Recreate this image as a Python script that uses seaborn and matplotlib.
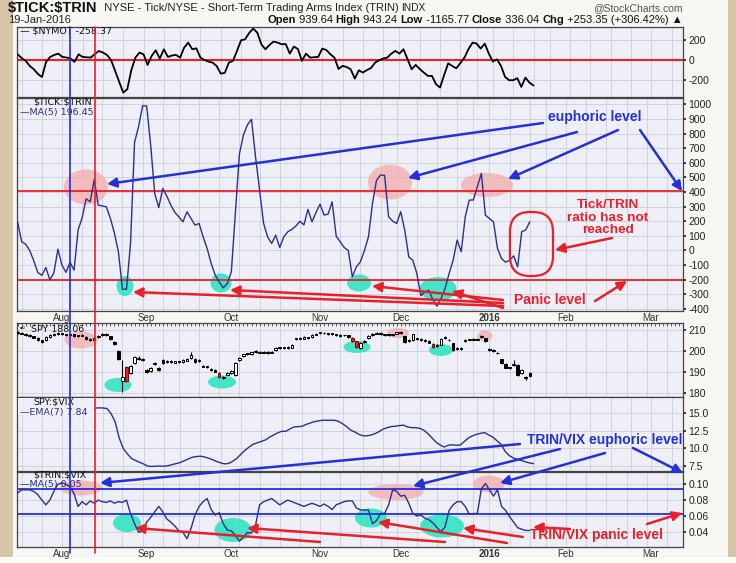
import numpy as np
import pandas as pd
import matplotlib
matplotlib.use("Agg")
import matplotlib.pyplot as plt
import seaborn as sns
from matplotlib.patches import Ellipse, FancyBboxPatch, Rectangle
from matplotlib.transforms import blended_transform_factory

# one value per trading day, 17-Jul-2015 .. 19-Jan-2016
nymot = [
    57, 20, -9, -60, -93, -140, -170, -20, 30, 50,
    64, 31, 25, 17, -19, 57, 31, 28, 24, 60,
    90, 75, 50, 0, -109, -220, -326, -292, -100, 24,
    74, 57, -49, 41, 97, 14, 107, 31, 45, 51,
    24, 124, 174, 107, 117, 24, 0, -16, -26, -60,
    -136, -129, -26, -9, 90, 197, 207, 270, 314, 274,
    157, 107, 150, 184, 174, 157, 160, 64, 134, 110,
    -9, 64, 24, 28, 31, 114, 100, 57, 24, -90,
    -59, -70, -93, -186, -103, -126, -100, -80, -26, -3,
    15, 24, 64, 91, 64, 107, 7, -93, -49, -90,
    -126, -159, -159, -242, -276, -150, -33, -60, -83, -30,
    24, 110, 174, 164, 114, 164, 64, -16, 7, -59,
    -169, -202, -202, -182, -269, -176, -226, -255,
]

tick_trin_ma5 = [
    196, 60, 43, 0, -70, -150, -170, -117, -200, -153,
    9, -100, -150, -80, -135, 140, 224, 354, 333, 486,
    310, 305, 299, 220, 120, -10, -265, -265, 48, 740,
    847, 990, 988, 721, 390, 294, 424, 372, 310, 260,
    230, 196, 265, 219, 173, 185, 93, 14, -89, -169,
    -215, -255, -226, -146, 260, 660, 790, 860, 897, 641,
    413, 185, 93, 48, 105, 20, 93, 128, 144, 167,
    200, 175, 281, 196, 260, 317, 242, 249, 333, 98,
    59, 20, 0, -180, -112, -78, 0, 93, 322, 480,
    516, 514, 230, 201, 185, 265, 139, -44, -67, -158,
    -310, -283, -272, -340, -381, -329, -260, -158, -67, 71,
    -9, 230, 345, 345, 436, 527, 242, 219, 196, 14,
    -55, -80, -67, -37, -112, 128, 140, 196,
]

spy_open = [
    209.0, 208.6, 208.2, 207.6, 207.0, 206.2, 205.0, 205.0, 206.6, 207.6,
    208.1, 208.4, 207.9, 207.5, 208.0, 207.0, 207.3, 206.8, 205.6, 205.2,
    206.5, 207.5, 208.3, 207.0, 204.5, 200.0, 185.8, 192.3, 189.6, 194.2,
    196.0, 196.2, 191.0, 190.6, 193.6, 192.0, 195.7, 194.6, 195.4, 194.5,
    195.0, 194.8, 195.4, 196.5, 196.2, 195.2, 193.0, 192.6, 191.4, 191.0,
    189.6, 187.8, 188.8, 189.6, 188.4, 195.8, 197.6, 198.4, 198.7, 199.4,
    199.2, 199.6, 199.0, 199.2, 200.6, 201.4, 201.3, 201.5, 201.6, 205.6,
    205.9, 205.9, 206.4, 206.8, 207.8, 208.5, 208.6, 208.4, 208.2, 208.0,
    207.6, 207.5, 207.4, 206.3, 204.6, 201.3, 204.2, 206.2, 207.6, 208.3,
    208.5, 207.6, 207.8, 207.5, 208.3, 208.5, 207.0, 204.8, 205.2, 206.0,
    205.8, 205.4, 204.8, 203.4, 202.2, 203.0, 206.2, 205.4, 203.6, 201.0,
    200.8, 204.8, 205.4, 205.7, 205.4, 206.8, 206.0, 201.0, 200.4, 198.8,
    196.0, 193.8, 192.0, 193.2, 193.4, 189.4, 187.6, 189.6,
]
spy_high = [
    209.4, 209.0, 208.6, 207.9, 207.3, 206.5, 205.4, 206.9, 207.9, 208.5,
    208.8, 208.7, 208.2, 208.3, 208.3, 207.7, 208.0, 207.1, 206.0, 206.6,
    207.6, 208.5, 208.6, 207.3, 204.9, 200.5, 195.7, 193.0, 193.3, 197.6,
    197.4, 196.8, 191.6, 192.3, 194.6, 192.5, 196.0, 195.9, 195.8, 195.4,
    195.4, 196.0, 196.6, 199.6, 196.5, 196.2, 193.4, 193.0, 191.8, 191.4,
    189.9, 188.3, 190.0, 191.0, 194.6, 196.9, 198.7, 199.2, 199.7, 200.3,
    200.0, 199.9, 199.8, 200.0, 201.7, 202.1, 202.0, 202.3, 203.4, 206.2,
    206.5, 206.9, 206.7, 207.9, 208.6, 209.0, 208.9, 208.7, 208.5, 208.3,
    207.9, 207.8, 207.7, 206.6, 204.9, 204.2, 205.2, 207.4, 208.5, 208.8,
    208.8, 208.0, 208.1, 208.2, 209.1, 209.3, 207.3, 205.6, 208.2, 206.4,
    206.1, 205.7, 205.1, 203.7, 203.2, 206.2, 207.2, 205.7, 203.9, 201.8,
    201.8, 205.6, 205.9, 206.0, 206.0, 207.5, 206.3, 201.4, 200.8, 199.4,
    196.3, 194.2, 192.3, 195.5, 193.8, 191.2, 188.0, 190.0,
]
spy_low = [
    208.2, 207.9, 207.2, 206.5, 206.0, 204.8, 204.0, 204.7, 206.3, 207.3,
    207.8, 207.5, 207.1, 207.2, 206.6, 206.7, 206.9, 205.2, 204.6, 204.9,
    206.2, 207.2, 207.2, 205.1, 202.8, 195.5, 180.6, 185.2, 189.2, 193.8,
    195.6, 195.4, 189.5, 190.2, 193.2, 190.5, 193.7, 194.2, 194.2, 194.1,
    194.2, 194.4, 195.0, 196.0, 194.5, 194.8, 192.2, 191.9, 190.5, 189.8,
    187.3, 186.5, 188.4, 189.2, 188.0, 195.4, 197.2, 198.0, 198.3, 199.0,
    198.8, 198.8, 198.6, 198.8, 200.2, 201.0, 200.9, 201.1, 201.2, 205.2,
    205.5, 205.5, 205.7, 206.4, 207.4, 208.1, 208.0, 207.8, 207.6, 207.0,
    206.8, 207.0, 206.4, 204.4, 201.6, 200.9, 203.8, 205.8, 207.2, 207.9,
    207.8, 207.2, 207.1, 207.1, 207.9, 208.1, 204.0, 204.4, 204.8, 205.2,
    204.8, 204.2, 203.6, 201.4, 201.8, 202.6, 205.8, 204.6, 200.2, 200.6,
    200.4, 204.4, 205.0, 205.0, 205.0, 206.4, 204.2, 200.0, 199.4, 198.4,
    193.8, 191.7, 191.3, 192.8, 188.2, 189.0, 186.4, 187.6,
]
spy_close = [
    208.6, 208.3, 207.6, 206.9, 206.4, 205.2, 204.4, 206.6, 207.5, 208.1,
    208.4, 207.9, 207.5, 207.9, 207.0, 207.4, 207.7, 205.6, 205.0, 206.3,
    207.3, 208.2, 207.6, 205.5, 203.2, 196.0, 187.4, 185.6, 192.8, 197.2,
    196.5, 195.8, 190.0, 191.8, 194.1, 191.0, 194.1, 195.4, 194.6, 195.0,
    194.6, 195.6, 196.2, 198.2, 194.9, 195.8, 192.6, 192.3, 190.9, 190.2,
    187.8, 187.0, 189.6, 190.5, 194.2, 196.6, 198.4, 198.8, 199.3, 199.9,
    199.6, 199.2, 199.5, 199.6, 201.4, 201.8, 201.6, 202.0, 203.0, 205.9,
    206.1, 206.6, 206.1, 207.6, 208.3, 208.7, 208.4, 208.2, 208.0, 207.4,
    207.2, 207.4, 206.8, 204.8, 202.0, 203.8, 204.8, 207.1, 208.2, 208.5,
    208.2, 207.8, 207.5, 207.9, 208.8, 209.0, 204.4, 205.3, 207.9, 205.6,
    205.2, 204.6, 204.0, 201.8, 202.9, 205.9, 206.8, 205.0, 200.6, 201.5,
    201.4, 205.3, 205.6, 205.4, 205.7, 207.2, 204.6, 200.5, 199.8, 199.0,
    194.2, 192.1, 191.8, 194.0, 188.6, 190.8, 187.2, 188.06,
]
red_candle_days = ["2015-08-25", "2015-09-28", "2015-11-12", "2015-11-13", "2015-12-11"]

spy_vix_ema7 = [
    16.0, 16.1, 16.0, 15.9, 15.7, 15.5, 15.5, 15.6, 15.7, 15.7,
    15.6, 15.6, 15.6, 15.6, 15.5, 15.5, 15.5, 15.57, 15.65, 15.72,
    15.76, 15.74, 15.67, 14.95, 13.8, 11.5, 10.0, 9.24, 8.6, 8.3,
    8.05, 7.8, 7.5, 7.45, 7.48, 7.5, 7.48, 7.55, 7.7, 7.85,
    8.0, 8.25, 8.5, 8.75, 8.85, 8.9, 8.8, 8.62, 8.4, 8.15,
    7.95, 7.81, 7.88, 8.2, 8.6, 9.2, 9.75, 10.2, 10.6, 10.8,
    11.0, 11.2, 11.6, 11.9, 12.2, 12.43, 12.43, 12.75, 13.05, 13.1,
    13.14, 13.4, 13.6, 13.8, 13.9, 14.0, 14.0, 14.0, 14.0, 13.85,
    13.5, 13.1, 12.6, 12.35, 12.0, 11.8, 11.8, 11.9, 12.1, 12.4,
    12.75, 12.95, 13.1, 13.15, 13.25, 13.3, 13.05, 12.95, 12.95, 12.85,
    12.6, 12.1, 11.5, 10.9, 10.5, 10.2, 10.45, 10.52, 10.45, 10.5,
    11.0, 11.5, 11.8, 12.0, 12.15, 12.24, 11.9, 11.6, 11.1, 10.6,
    9.6, 9.0, 8.65, 8.45, 8.3, 8.1, 7.95, 7.84,
]

trin_vix_ma5 = [
    0.089, 0.093, 0.093, 0.093, 0.091, 0.087, 0.080, 0.074, 0.080, 0.091,
    0.100, 0.102, 0.100, 0.097, 0.088, 0.072, 0.078, 0.074, 0.079, 0.076,
    0.080, 0.078, 0.077, 0.079, 0.076, 0.078, 0.077, 0.080, 0.063, 0.050,
    0.039, 0.041, 0.052, 0.058, 0.065, 0.072, 0.065, 0.056, 0.052, 0.047,
    0.041, 0.039, 0.031, 0.044, 0.061, 0.072, 0.078, 0.082, 0.068, 0.061,
    0.064, 0.050, 0.042, 0.041, 0.035, 0.028, 0.033, 0.039, 0.038, 0.048,
    0.074, 0.078, 0.080, 0.082, 0.078, 0.074, 0.077, 0.080, 0.078, 0.076,
    0.074, 0.072, 0.074, 0.076, 0.074, 0.072, 0.075, 0.072, 0.068, 0.074,
    0.076, 0.078, 0.079, 0.079, 0.070, 0.0675, 0.0675, 0.0675, 0.050, 0.054,
    0.063, 0.063, 0.074, 0.093, 0.091, 0.085, 0.086, 0.076, 0.063, 0.060,
    0.061, 0.057, 0.055, 0.051, 0.045, 0.040, 0.046, 0.067, 0.074, 0.078,
    0.078, 0.072, 0.062, 0.063, 0.063, 0.094, 0.101, 0.093, 0.085, 0.093,
    0.072, 0.067, 0.059, 0.052, 0.045, 0.043, 0.0415, 0.0415,
]

# reference levels drawn by the chart author
tick_euphoric, tick_panic = 410, -200
trinvix_euphoric, trinvix_panic = 0.0935, 0.0623
blue_marker_day, red_marker_day = "2015-08-05", "2015-08-13"

holidays = ["2015-09-07", "2015-11-26", "2015-12-25", "2016-01-01", "2016-01-18"]

# ---------------------------------------------------------------- setup
W, H = 736, 563
TAN = "#d7c5a9"
CHART_BG = "#f7f6f2"
PANEL_BG = "#eeeff6"
GRID = "#cdced8"
BLUE = "#2430d8"
NAVY = "#2c2f8f"
RED = "#e8202a"
PINK = "#f2b3b3"
TEAL = "#30e3c2"

sns.set_theme(style="white")
plt.rcParams["font.family"] = ["Liberation Sans", "DejaVu Sans"]
plt.rcParams["axes.unicode_minus"] = False

hist = pd.bdate_range("2015-07-17", "2016-01-19")
hist = hist[~hist.isin(pd.to_datetime(holidays))]
future = pd.bdate_range("2016-01-20", "2016-03-11")
all_days = hist.append(future)
x = np.arange(len(hist))
day_pos = pd.Series(np.arange(len(all_days)), index=all_days)

months = all_days.to_period("M")
month_idx = np.where(np.r_[False, months[1:] != months[:-1]])[0]
month_lab = ["2016" if all_days[i].month == 1 else all_days[i].strftime("%b") for i in month_idx]
wk = all_days.isocalendar().week.values
week_idx = np.where(np.r_[False, wk[1:] != wk[:-1]])[0]

XMIN, XMAX = -0.15, 163.8
PL, PR = 17, 683

fig = plt.figure(figsize=(W / 100, H / 100), dpi=100)
fig.patch.set_facecolor(TAN)
fig.add_artist(Rectangle((13 / W, 1 - 557 / H), (728 - 13) / W, 557 / H,
                         transform=fig.transFigure, fc=CHART_BG, ec="none", zorder=-5))
fig.add_artist(Rectangle((0, 0), 1, 1 - 557 / H, transform=fig.transFigure,
                         fc="#fbfbfb", ec="none", zorder=-5))


def add_panel(y0, y1, ylim, ticks, labels):
    ax = fig.add_axes([PL / W, 1 - y1 / H, (PR - PL) / W, (y1 - y0) / H])
    ax.set_facecolor(PANEL_BG)
    ax.set_xlim(XMIN, XMAX)
    ax.set_ylim(*ylim)
    for w in week_idx:
        ax.axvline(w, color=GRID, lw=0.6, zorder=0)
    ax.set_yticks(ticks)
    ax.set_yticklabels(labels)
    ax.yaxis.tick_right()
    ax.grid(axis="y", color=GRID, lw=0.6)
    ax.grid(axis="x", visible=False)
    ax.tick_params(axis="y", length=2, pad=2, labelsize=7.5, colors="#222222")
    ax.set_xticks([])
    for s in ax.spines.values():
        s.set_color("#444444")
        s.set_linewidth(0.9)
    return ax


def month_axis(ax):
    ax.set_xticks(month_idx)
    ax.set_xticklabels(month_lab)
    ax.set_xticks(np.arange(len(all_days)), minor=True)
    ax.tick_params(axis="x", which="major", length=0, pad=1.5, labelsize=7, colors="#333333")
    ax.tick_params(axis="x", which="minor", length=2, width=0.6, direction="in", colors="#444444")
    for t in ax.get_xticklabels():
        if t.get_text() == "2016":
            t.set_fontweight("bold")


ax1 = add_panel(27, 97, (-370, 330), [-200, 0, 200], ["-200", "0", "200"])
ax2 = add_panel(98, 311, (-414, 1043), list(range(-400, 1001, 100)),
                [str(v) for v in range(-400, 1001, 100)])
ax3 = add_panel(323, 397, (178.1, 213.3), [180, 190, 200, 210], ["180", "190", "200", "210"])
ax4 = add_panel(397, 471, (6.8, 17.3), [7.5, 10, 12.5, 15], ["7.5", "10.0", "12.5", "15.0"])
ax5 = add_panel(472, 547, (0.0205, 0.1156), [0.04, 0.06, 0.08, 0.10],
                ["0.04", "0.06", "0.08", "0.10"])
month_axis(ax2)
month_axis(ax5)
ax3.set_xticks(np.arange(len(all_days)), minor=True)
ax3.tick_params(axis="x", which="minor", top=True, bottom=False, length=2, width=0.6,
                direction="in", colors="#444444")

# overlay in pixel units for the hand-drawn annotations
ovl = fig.add_axes([0, 0, 1, 1], zorder=10)
ovl.set_xlim(0, W)
ovl.set_ylim(H, 0)
ovl.axis("off")
ovl.patch.set_alpha(0)


def blob(ax, cx, cy, w, h, color, alpha):
    ax.add_patch(Ellipse((cx, cy), w, h, transform=ovl.transData, fc=color,
                         ec="none", alpha=alpha, zorder=1))


# ---------------------------------------------------------------- series
sns.lineplot(x=x, y=nymot, ax=ax1, color="black", linewidth=1.3, legend=False, zorder=3)
ax1.axhline(0, color=RED, lw=1.5, zorder=2)

for cx, cy, w, h in [(86, 187, 44, 35), (390, 182, 44, 35), (487, 185, 52, 24)]:
    blob(ax2, cx, cy, w, h, PINK, 0.85)
for cx, cy, w, h in [(125, 286, 17, 20), (221, 283, 21, 19), (359, 283, 24, 17), (438, 289, 37, 24)]:
    blob(ax2, cx, cy, w, h, TEAL, 0.9)
sns.lineplot(x=x, y=tick_trin_ma5, ax=ax2, color=NAVY, linewidth=1.0, legend=False, zorder=3)
ax2.axhline(tick_euphoric, color=RED, lw=1.3, zorder=2)
ax2.axhline(tick_panic, color=RED, lw=1.3, zorder=2)

for cx, cy, w, h in [(81, 340, 33, 17), (398, 333, 22, 10), (485, 336, 15, 11)]:
    blob(ax3, cx, cy, w, h, PINK, 0.85)
for cx, cy, w, h in [(118, 385, 27, 14), (222, 382, 28, 13), (357, 347, 27, 12), (441, 350, 24, 12)]:
    blob(ax3, cx, cy, w, h, TEAL, 0.9)
o = np.array(spy_open)
c = np.array(spy_close)
red_pos = day_pos[pd.to_datetime(red_candle_days)].values
face = np.where(c >= o, "white", "black").astype(object)
edge = np.array(["black"] * len(x), dtype=object)
face[red_pos] = RED
edge[red_pos] = "#8a0000"
ax3.vlines(x, spy_low, spy_high, color="black", lw=0.8, zorder=3)
ax3.bar(x, np.maximum(np.abs(c - o), 0.35), bottom=np.minimum(o, c), width=0.62,
        color=list(face), edgecolor=list(edge), linewidth=0.7, zorder=4)

sns.lineplot(x=x, y=spy_vix_ema7, ax=ax4, color=NAVY, linewidth=1.0, legend=False, zorder=3)

for cx, cy, w, h in [(81, 488, 42, 15), (396, 492, 55, 16), (489, 484, 32, 17)]:
    blob(ax5, cx, cy, w, h, PINK, 0.85)
for cx, cy, w, h in [(127, 523, 28, 18), (233, 530, 37, 24), (371, 518, 32, 19), (442, 526, 44, 23)]:
    blob(ax5, cx, cy, w, h, TEAL, 0.9)
sns.lineplot(x=x, y=trin_vix_ma5, ax=ax5, color=NAVY, linewidth=1.0, legend=False, zorder=3)
ax5.axhline(trinvix_euphoric, color=BLUE, lw=1.3, zorder=2)
ax5.axhline(trinvix_panic, color=BLUE, lw=1.3, zorder=2)

# ---------------------------------------------------------------- header & legends
renderer = fig.canvas.get_renderer()


def text_runs(runs, y, x0=None, x_right=None):
    objs = [ovl.text(0, y, s, fontsize=fs, fontweight=wt, va="center", color=col,
                     family=["Liberation Sans", "DejaVu Sans"]) for s, wt, fs, col in runs]
    widths = [t.get_window_extent(renderer).width for t in objs]
    xx = x0 if x0 is not None else x_right - sum(widths)
    for t, wd in zip(objs, widths):
        t.set_x(xx)
        xx += wd


text_runs([(r"\$TICK:\$TRIN", "bold", 10.5, "#111111"),
           ("  NYSE - Tick/NYSE - Short-Term Trading Arms Index (TRIN) ", "normal", 8, "#222222"),
           ("INDX", "normal", 7.3, "#222222")], 8, x0=8)
ovl.text(683, 8.5, "@StockCharts.com", fontsize=7.5, va="center", ha="right", color="#555555")
ovl.text(8, 20, "19-Jan-2016", fontsize=8, va="center", color="#222222")
text_runs([("Open", "bold", 8, "#111111"), (" 939.64 ", "normal", 8, "#111111"),
           ("High", "bold", 8, "#111111"), (" 943.24 ", "normal", 8, "#111111"),
           ("Low", "bold", 8, "#111111"), (" -1165.77 ", "normal", 8, "#111111"),
           ("Close", "bold", 8, "#111111"), (" 336.04 ", "normal", 8, "#111111"),
           ("Chg", "bold", 8, "#111111"), (" +253.35 (+306.42%) \u25b2", "normal", 8, "#111111")],
          20, x_right=683)

LEG = dict(fontsize=6.8, va="center", family=["DejaVu Sans"])
ovl.text(20, 31, "\u2014 \\$NYMOT -258.37", color="#111111", **LEG)
ovl.text(33, 102, r"\$TICK:\$TRIN", color="#111111", **LEG)
ovl.text(20, 112, "\u2014MA(5) 196.45", color=NAVY, **LEG)
ovl.text(31, 329, "SPY 188.06", color="#111111", **LEG)
ovl.text(20, 329, "\u25aa\u25ab", color="#111111", fontsize=6, va="center")
ovl.add_patch(Rectangle((18, 398), 76, 17, fc=PANEL_BG, ec="none", zorder=1))
ovl.text(33, 402, r"SPY:\$VIX", color="#111111", zorder=2, **LEG)
ovl.text(20, 412, "\u2014EMA(7) 7.84", color=NAVY, zorder=2, **LEG)
ovl.text(33, 475, r"\$TRIN:\$VIX", color="#111111", **LEG)
ovl.text(20, 485, "\u2014MA(5) 0.05", color=NAVY, **LEG)

# vertical marker lines through every panel
blend = blended_transform_factory(ax1.transData, ovl.transData)
for day, col in [(blue_marker_day, BLUE), (red_marker_day, RED)]:
    p = day_pos[pd.Timestamp(day)]
    ovl.plot([p, p], [27, 553], color=col, lw=1.2, transform=blend, zorder=3)

# ---------------------------------------------------------------- annotations
def arrow(tail, head, col):
    ovl.annotate("", xy=head, xytext=tail, zorder=5,
                 arrowprops=dict(arrowstyle="-|>,head_length=0.55,head_width=0.28",
                                 color=col, lw=1.8, shrinkA=0, shrinkB=0, mutation_scale=10))


for tail, head in [((543, 123), (107, 184)), ((577, 132), (408, 178)),
                   ((618, 130), (508, 179)), ((640, 130), (682, 191)),
                   ((520, 444), (100, 483)), ((560, 449), (413, 486)),
                   ((605, 453), (500, 483)), ((633, 448), (683, 473))]:
    arrow(tail, head, BLUE)

for tail, head in [((612, 238), (555, 250)), ((595, 301), (627, 281)),
                   ((503, 306), (133, 292)), ((503, 303), (230, 290)),
                   ((503, 300), (372, 286)), ((503, 308), (452, 291)),
                   ((320, 542), (135, 528)), ((445, 542), (247, 528)),
                   ((507, 543), (378, 522)), ((523, 537), (463, 528)),
                   ((570, 529), (533, 527)), ((647, 524), (682, 513))]:
    arrow(tail, head, RED)

ovl.add_patch(FancyBboxPatch((510, 212), 43, 64, boxstyle="round,pad=0,rounding_size=20",
                             fill=False, ec=RED, lw=1.6, zorder=5))

ANN = dict(fontweight="bold", ha="center", va="center", zorder=6)
ovl.text(595, 117, "euphoric level", color=BLUE, fontsize=10, **ANN)
ovl.text(608, 205, "Tick/TRIN", color=RED, fontsize=9.7, **ANN)
ovl.text(608, 218, "ratio has not", color=RED, fontsize=9.7, **ANN)
ovl.text(608, 230, "reached", color=RED, fontsize=9.7, **ANN)
ovl.text(550, 300, "Panic level", color=RED, fontsize=10, **ANN)
ovl.text(605, 440, "TRIN/VIX euphoric level", color=BLUE, fontsize=10, **ANN)
ovl.text(597, 535, "TRIN/VIX panic level", color=RED, fontsize=10, **ANN)

fig.savefig("out.png", dpi=100, facecolor=fig.get_facecolor())
